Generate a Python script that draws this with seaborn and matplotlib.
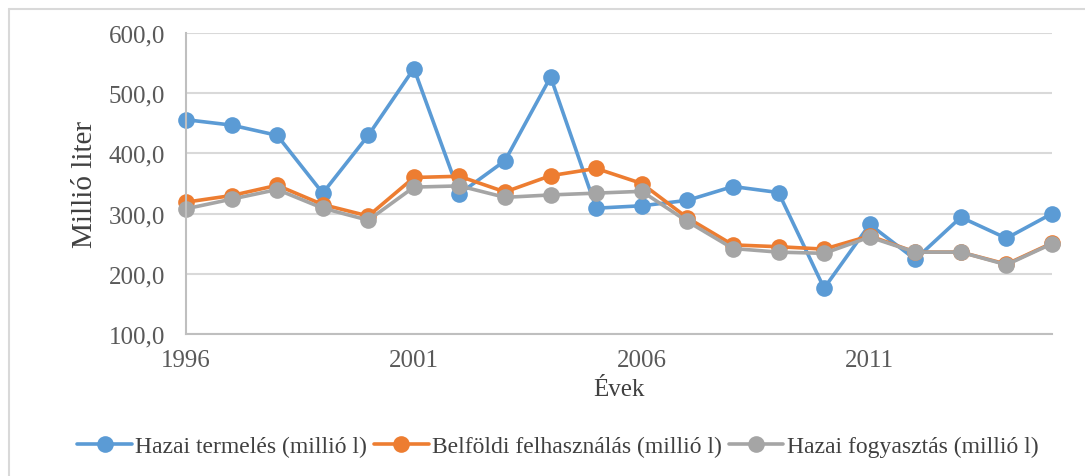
import matplotlib
matplotlib.use("Agg")
import matplotlib.pyplot as plt
import seaborn as sns
import pandas as pd
from matplotlib.lines import Line2D

years = list(range(1996, 2016))
hazai_termeles = [456, 447, 430, 334, 430, 541, 333, 388, 527, 309,
                  313, 322, 345, 335, 176, 282, 224, 294, 259, 300]
belfoldi_felhasznalas = [319, 330, 347, 315, 296, 360, 362, 336, 363, 375,
                         350, 293, 248, 245, 241, 263, 236, 236, 216, 251]
hazai_fogyasztas = [308, 324, 340, 309, 289, 344, 346, 327, 331, 334,
                    337, 287, 242, 236, 234, 261, 236, 236, 215, 250]
series_names = ["Hazai termelés (millió l)",
                "Belföldi felhasználás (millió l)",
                "Hazai fogyasztás (millió l)"]
colors = ["#5B9BD5", "#ED7D31", "#A5A5A5"]

df = pd.DataFrame({
    "Év": years * 3,
    "érték": hazai_termeles + belfoldi_felhasznalas + hazai_fogyasztas,
    "sor": [s for s in series_names for _ in years],
})

sns.set_theme(style="white")
plt.rcParams["font.family"] = ["Liberation Serif", "DejaVu Serif"]

fig = plt.figure(figsize=(10.85, 4.77), dpi=100)
ax = fig.add_axes([186 / 1085, 1 - 335 / 477, (1052 - 186) / 1085, (335 - 34) / 477])

sns.lineplot(data=df, x="Év", y="érték", hue="sor", palette=colors,
             marker="o", markersize=12, markeredgewidth=0, linewidth=2.6,
             legend=False, ax=ax)
for line in ax.lines:
    line.set_clip_on(False)

ax.set_xlim(1996, 2015)
ax.set_ylim(100, 600)
ax.set_xticks([1996, 2001, 2006, 2011])
ax.set_yticks(range(100, 601, 100))
ax.set_yticklabels([f"{v},0" for v in range(100, 601, 100)])
ax.tick_params(axis="both", length=0, labelsize=18, colors="#595959")
ax.tick_params(axis="y", pad=15)
ax.tick_params(axis="x", pad=11)
ax.yaxis.grid(True, color="#d9d9d9", linewidth=1.5)
ax.set_axisbelow(True)
for side in ["top", "right"]:
    ax.spines[side].set_visible(False)
for side in ["left", "bottom"]:
    ax.spines[side].set_color("#bfbfbf")
    ax.spines[side].set_linewidth(1.5)

ax.set_xlabel("Évek", fontsize=18, color="#404040", labelpad=5)
ax.set_ylabel("Millió liter", fontsize=21, color="#404040", labelpad=8)

handles = [Line2D([0], [0], color=c, linewidth=2.6, marker="o", markersize=12,
                  markeredgewidth=0) for c in colors]
fig.legend(handles, series_names, loc="center", bbox_to_anchor=(558 / 1085, 1 - 447 / 477),
           ncol=3, frameon=False, fontsize=17, handlelength=2.3, handletextpad=0.15,
           columnspacing=0.3, labelcolor="#404040")

# chart area border (partially visible)
fig.add_artist(Line2D([9 / 1085, 9 / 1085], [0, 1 - 10 / 477], color="#d9d9d9", linewidth=1.5))
fig.add_artist(Line2D([9 / 1085, 1], [1 - 10 / 477, 1 - 10 / 477], color="#d9d9d9", linewidth=1.5))

fig.savefig("out.png", dpi=100)
